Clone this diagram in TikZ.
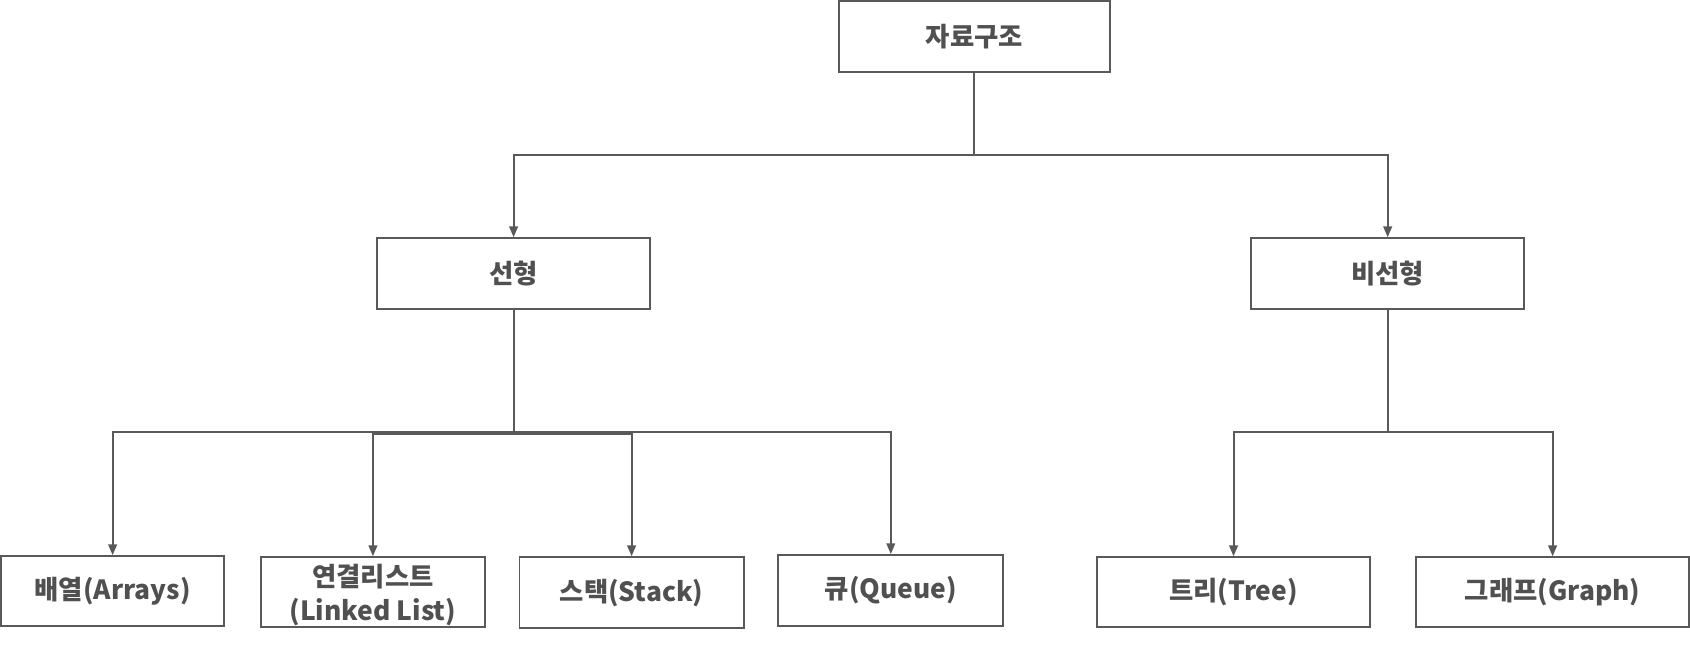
\documentclass[tikz,border=0pt]{standalone}
\usepackage{fontspec}
\setmainfont{Noto Sans CJK KR}
\usetikzlibrary{arrows.meta}
\definecolor{ln}{HTML}{595959}
\definecolor{tx}{HTML}{505050}
\begin{document}
\begin{tikzpicture}[x=1pt,y=-1pt,
  box/.style={draw=ln,line width=1.8pt,rectangle,inner sep=0pt,text=tx,
    font=\fontsize{24.5}{31.5}\selectfont\bfseries,align=center},
  conn/.style={draw=ln,line width=1.8pt},
  arr/.style={conn,-{Triangle[length=10pt,width=8pt]}}]
\useasboundingbox (0,0) rectangle (1568,599.4);
\node[box,minimum width=252pt,minimum height=66pt] (top) at (904,34) {자료구조};
\node[box,minimum width=253pt,minimum height=66pt] (lin) at (476.5,254) {선형};
\node[box,minimum width=253pt,minimum height=66pt] (non) at (1287.5,254) {비선형};
\node[box,minimum width=207pt,minimum height=65pt] (arrs) at (104.5,548.5) {배열(Arrays)};
\node[box,minimum width=208pt,minimum height=65pt] (ll) at (346,549.5) {};
\node[box,draw=none] (lltext) at (346,552) {연결리스트\\(Linked List)};
\node[box,minimum width=208pt,minimum height=66pt] (stk) at (586,550) {스택(Stack)};
\node[box,minimum width=209pt,minimum height=66pt] (que) at (826.5,548) {큐(Queue)};
\node[box,minimum width=253pt,minimum height=65pt] (tree) at (1144.5,549.5) {트리(Tree)};
\node[box,minimum width=253pt,minimum height=65pt] (graph) at (1440.5,549.5) {그래프(Graph)};
\coordinate (j1) at (904,144);
\coordinate (j2) at (476.5,401);
\coordinate (j2b) at (476.5,403);
\coordinate (j3) at (1287.5,401);
\draw[conn] (top) -- (j1);
\draw[arr] (j1) -| (lin);
\draw[arr] (j1) -| (non);
\draw[conn] (lin) -- (j2);
\draw[arr] (j2) -| (arrs);
\draw[arr] (j2b) -| (ll);
\draw[arr] (j2b) -| (stk);
\draw[arr] (j2) -| (que);
\draw[conn] (non) -- (j3);
\draw[arr] (j3) -| (tree);
\draw[arr] (j3) -| (graph);
\end{tikzpicture}
\end{document}
